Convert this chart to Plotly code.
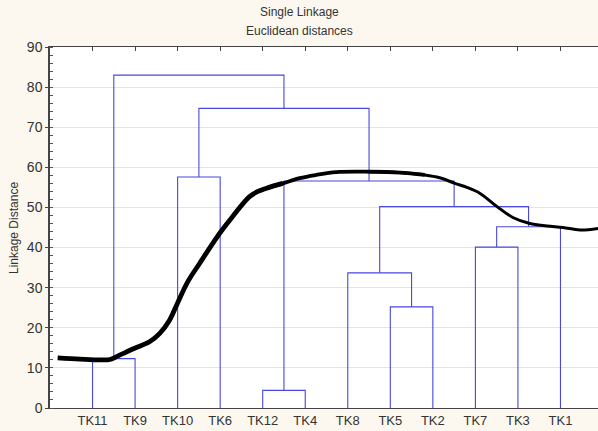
import plotly.graph_objects as go

# ---- data ----
leaves = ["TK11", "TK9", "TK10", "TK6", "TK12", "TK4", "TK8", "TK5", "TK2", "TK7", "TK3", "TK1"]
# merges: node ids 0..11 are leaves, new nodes get ids 12, 13, ...
merge_a = [0, 2, 4, 7, 6, 9, 17, 16, 14, 13, 12]
merge_b = [1, 3, 5, 8, 15, 10, 11, 18, 19, 20, 21]
merge_h = [12.3, 57.6, 4.4, 25.2, 33.7, 40.1, 45.2, 50.2, 56.6, 74.7, 83.0]

# hand-drawn overlay curve (x in leaf units, y in linkage distance)
curve_x = [0.18, 0.7, 1.17, 1.41, 1.6, 1.99, 2.34, 2.58, 2.81, 3.0, 3.24, 3.52, 3.83,
           4.02, 4.29, 4.69, 4.89, 5.09, 5.47, 5.87, 6.26, 6.73, 7.52, 8.22, 8.81, 9.16,
           9.52, 9.8, 10.11, 10.51, 10.88, 11.28, 11.68, 12.06, 12.46, 12.9]
curve_y = [12.5, 12.2, 12.0, 12.1, 13.0, 14.9, 16.5, 18.6, 21.9, 26.2, 31.5, 36.1, 41.1,
           44.0, 47.7, 52.7, 54.0, 54.8, 56.0, 57.3, 58.1, 58.8, 58.9, 58.7, 58.1, 57.4,
           56.0, 55.0, 53.5, 50.2, 47.5, 46.0, 45.4, 45.0, 44.4, 44.8]

y_ticks = [0, 10, 20, 30, 40, 50, 60, 70, 80, 90]

# ---- build dendrogram links ----
node_x = {i: i + 1 for i in range(len(leaves))}
node_h = {i: 0.0 for i in range(len(leaves))}
lx, ly = [], []
for k, (a, b, h) in enumerate(zip(merge_a, merge_b, merge_h)):
    nid = len(leaves) + k
    xa, xb = node_x[a], node_x[b]
    lx += [xa, xa, xb, xb, None]
    ly += [node_h[a], h, h, node_h[b], None]
    node_x[nid] = (xa + xb) / 2
    node_h[nid] = h

XR = [0, (598 - 50.5) / 42.5]
font = "Liberation Sans, Arial, sans-serif"

fig = go.Figure()
fig.add_trace(go.Scatter(x=lx, y=ly, mode="lines",
                         line=dict(color="#4848dc", width=1.1),
                         hoverinfo="skip", showlegend=False))
chunks = [(0, 18, 4.8), (17, 24, 3.8), (23, len(curve_x) - 1, 3.0)]
for s, e, w in chunks:
    fig.add_trace(go.Scatter(x=curve_x[s:e + 1], y=curve_y[s:e + 1], mode="lines",
                             line=dict(color="black", width=w, shape="spline", smoothing=1.0),
                             showlegend=False, hoverinfo="skip"))
# invisible trace to anchor top axis
fig.add_trace(go.Scatter(x=[0], y=[0], xaxis="x2", mode="markers",
                         marker=dict(opacity=0), showlegend=False, hoverinfo="skip"))

fig.update_layout(
    width=598, height=431,
    margin=dict(l=50, r=0, t=47, b=23),
    paper_bgcolor="#fcf8ef",
    plot_bgcolor="white",
    font=dict(family=font, size=13, color="#333333"),
    xaxis=dict(range=XR, tickvals=list(range(1, len(leaves) + 1)), ticktext=leaves,
               showgrid=False, zeroline=False, showline=True, linecolor="#444444",
               linewidth=1, ticks="", tickfont=dict(size=13, color="#333333")),
    xaxis2=dict(range=XR, overlaying="x", side="top", tickvals=list(range(0, 13)),
                showticklabels=False, ticks="inside", ticklen=4, tickcolor="#444444",
                showgrid=False, zeroline=False, showline=True, linecolor="#444444",
                linewidth=1),
    yaxis=dict(range=[0, 90], tickvals=y_ticks, showgrid=True, gridcolor="#e4e4e4",
               zeroline=False, showline=True, linecolor="#444444", linewidth=1.5,
               ticks="outside", ticklen=3, tickcolor="#444444",
               minor=dict(dtick=2, ticks="inside", ticklen=3, tickcolor="#555555",
                          showgrid=False),
               tickfont=dict(size=14, color="#333333")),
    annotations=[
        dict(text="Single Linkage", xref="paper", yref="paper", x=(299 - 50) / 548,
             y=1 + (47 - 12) / 361, xanchor="center", yanchor="middle",
             showarrow=False, font=dict(size=12, color="#333333")),
        dict(text="Euclidean distances", xref="paper", yref="paper", x=(299 - 50) / 548,
             y=1 + (47 - 31) / 361, xanchor="center", yanchor="middle",
             showarrow=False, font=dict(size=12, color="#333333")),
        dict(text="Linkage Distance", xref="paper", yref="paper", x=(14 - 50) / 548,
             y=(408 - 228) / 361, xanchor="center", yanchor="middle", textangle=-90,
             showarrow=False, font=dict(size=12, color="#333333")),
    ],
)

fig.write_html("out.html")
